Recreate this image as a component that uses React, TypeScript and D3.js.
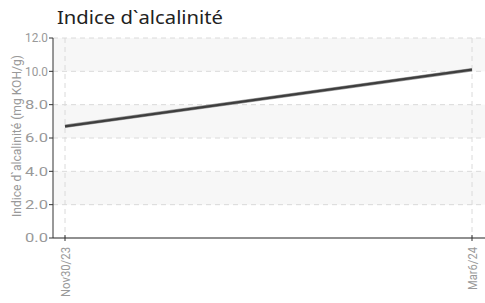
import * as d3 from "d3";

const dates = ["Nov30/23", "Mar6/24"];
const values = [6.7, 10.1];
const yTicks = [0, 2, 4, 6, 8, 10, 12];

const width = 485;
const height = 303;
const left = 53;
const top = 38;
const bottom = 238;
const labelFont = "Roboto, 'Liberation Sans', sans-serif";

export default function App() {
  const x = d3.scalePoint<string>().domain(dates).range([65, 472]);
  const y = d3.scaleLinear().domain([0, 12]).range([bottom, top]);

  const line = d3
    .line<number>()
    .x((_, i) => x(dates[i]) ?? 0)
    .y((d) => y(d));

  // shaded bands: 12-10, 8-6, 4-2
  const bands = [10, 6, 2];

  return (
    <svg
      width={width}
      height={height}
      style={{ position: "absolute", left: 0, top: 0 }}
      fontFamily={labelFont}
    >
      <text
        x={57}
        y={24}
        fontSize={18}
        fill="#222"
        fontFamily="'Noto Sans', sans-serif"
        textLength={166}
        lengthAdjust="spacingAndGlyphs"
      >
        Indice d`alcalinité
      </text>

      {bands.map((b) => (
        <rect key={b} x={left} y={y(b + 2)} width={width - left} height={y(b) - y(b + 2)} fill="#f7f7f7" />
      ))}

      {/* Grid */}
      {yTicks.slice(1).map((t) => (
        <line key={t} x1={left} x2={width} y1={y(t)} y2={y(t)} stroke="#dadada" strokeDasharray="5,4" />
      ))}
      {dates.map((d) => (
        <line key={d} x1={x(d)} x2={x(d)} y1={top} y2={bottom} stroke="#dadada" strokeDasharray="5,4" />
      ))}

      {/* Axes */}
      <line x1={left} x2={left} y1={top} y2={bottom} stroke="#333" strokeWidth={1} />
      <line x1={left} x2={width} y1={bottom} y2={bottom} stroke="#222" strokeWidth={1.2} />
      {yTicks.map((t) => (
        <g key={t}>
          <line x1={left - 4} x2={left} y1={y(t)} y2={y(t)} stroke="#333" />
          <text
            x={left - 5}
            y={y(t)}
            dy="0.35em"
            textAnchor="end"
            fontSize={12}
            fill="#999"
            textLength={23}
            lengthAdjust="spacingAndGlyphs"
          >
            {t.toFixed(1)}
          </text>
        </g>
      ))}
      {dates.map((d) => (
        <g key={d}>
          <line x1={x(d)} x2={x(d)} y1={bottom - 3} y2={bottom + 3} stroke="#333" />
          <text
            transform={`translate(${(x(d) ?? 0) + 5}, ${bottom + 9}) rotate(-90)`}
            textAnchor="end"
            fontSize={12}
            fill="#999"
            textLength={d.length > 7 ? 50 : 43}
            lengthAdjust="spacingAndGlyphs"
          >
            {d}
          </text>
        </g>
      ))}

      <text
        transform={`translate(21, 136) rotate(-90)`}
        textAnchor="middle"
        fontSize={12}
        fill="#999"
        textLength={162}
        lengthAdjust="spacingAndGlyphs"
      >
        Indice d`alcalinité (mg KOH/g)
      </text>

      {/* Line */}
      <path d={line(values) ?? ""} fill="none" stroke="#999" strokeWidth={3.6} />
      <path d={line(values) ?? ""} fill="none" stroke="#3e3e3e" strokeWidth={2.2} />
    </svg>
  );
}
